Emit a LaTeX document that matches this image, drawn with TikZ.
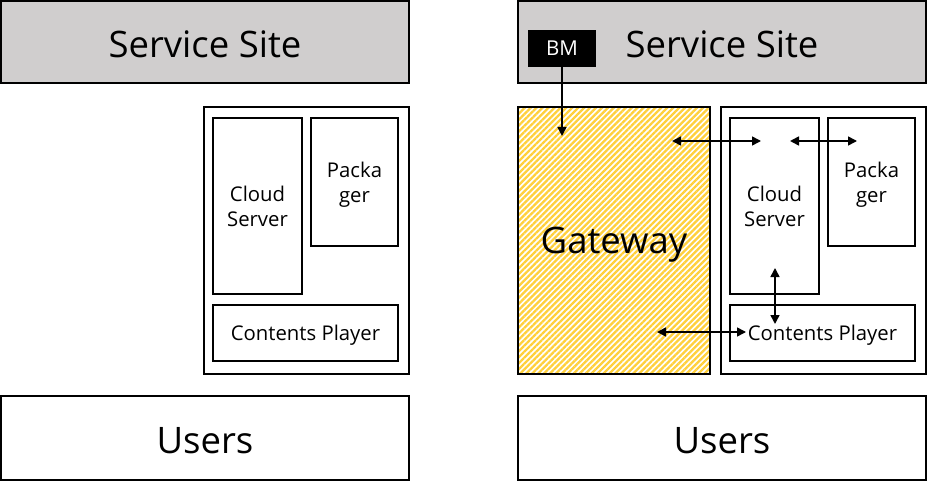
\documentclass[tikz,border=0pt]{standalone}
\usepackage{fontspec}
\setmainfont{Open Sans}
\usetikzlibrary{patterns.meta,arrows.meta}
\definecolor{sitegray}{RGB}{208,206,206}
\definecolor{hatchyellow}{RGB}{255,208,60}
\tikzset{
  box/.style={draw=black, line width=2pt, inner sep=0pt},
  site/.style={box, fill=sitegray},
  users/.style={box, fill=white},
  big/.style={font=\fontsize{36.5}{40}\selectfont},
  small/.style={font=\fontsize{20.3}{25}\selectfont, align=center},
  conn/.style={line width=1.6pt, {Triangle[length=9pt,width=9pt]}-{Triangle[length=9pt,width=9pt]}},
  oneway/.style={line width=1.6pt, -{Triangle[length=9pt,width=9pt]}},
}
\begin{document}
\begin{tikzpicture}[x=1pt,y=-1pt]
\useasboundingbox (0,0) rectangle (927,484);
% ---------------- left ----------------
\draw[site] (1,1) rectangle (409,83);
\node[big] (lsite) at (205,44.5) {Service Site};
\draw[box] (204,107) rectangle (409,374);
\draw[box] (213,118) rectangle (302,294);
\node[small] (lcloud) at (257.5,206) {Cloud\\Server};
\draw[box] (311,118) rectangle (398,246);
\node[small] (lpack) at (354.5,184.5) {Packa\\ger};
\draw[box] (213,305) rectangle (398,361);
\node[small] (lplayer) at (305.5,335) {Contents Player};
\draw[users] (1,396) rectangle (409,480);
\node[big] (lusers) at (205,441) {Users};
% ---------------- right ----------------
\draw[site] (518,1) rectangle (926,83);
\node[big] (rsite) at (722,44.5) {Service Site};
\node[fill=black, text=white, minimum width=68pt, minimum height=37pt, inner sep=0pt,
      font=\fontsize{20.5}{24}\selectfont] (bm) at (562,48.5) {BM};
\fill[white] (518,107) rectangle (710,374);
\fill[pattern={Lines[angle=45,distance=4.2pt,line width=2.3pt]}, pattern color=hatchyellow]
  (518,107) rectangle (710,374);
\draw[box] (518,107) rectangle (710,374);
\node[big] (gw) at (614,245) {Gateway};
\coordinate (gwtop) at (562,136);
\coordinate (gwa) at (672,141);
\coordinate (gwb) at (657,332);
\draw[box] (721,107) rectangle (926,374);
\draw[box] (730,118) rectangle (819,294);
\node[small] (rcloud) at (774.5,206) {Cloud\\Server};
\coordinate (csl) at (761,141);
\coordinate (csr) at (790,141);
\coordinate (csb) at (775,268);
\draw[box] (828,118) rectangle (915,246);
\node[small] (rpack) at (871.5,184.5) {Packa\\ger};
\coordinate (pk) at (857,141);
\draw[box] (730,305) rectangle (915,361);
\node[small] (rplayer) at (822.5,335) {Contents Player};
\coordinate (cpt) at (775,324);
\coordinate (cpl) at (746,332);
\draw[users] (518,396) rectangle (926,480);
\node[big] (rusers) at (722,441) {Users};
% ---------------- connectors ----------------
\draw[oneway] (bm.south) -- (gwtop);
\draw[conn] (gwa) -- (csl);
\draw[conn] (csr) -- (pk);
\draw[conn] (csb) -- (cpt);
\draw[conn] (gwb) -- (cpl);
\end{tikzpicture}
\end{document}
